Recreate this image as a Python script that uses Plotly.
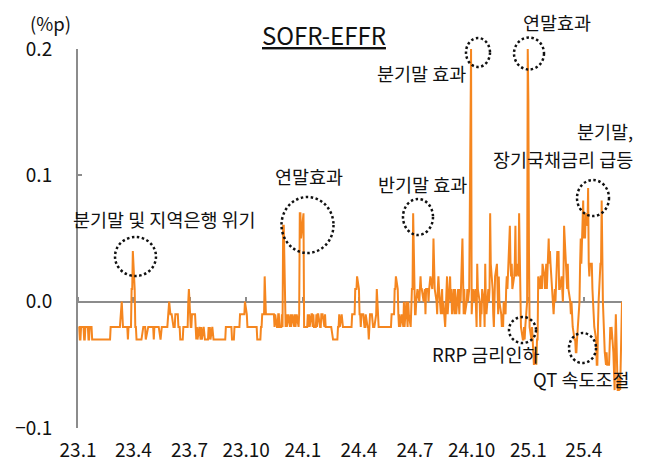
import pandas as pd
import plotly.graph_objects as go

# SOFR - EFFR spread, basis points, one list per month (business days)
SPREAD_2023 = [
    [-2,-2,-3,-3,-2,-2,-2,-3,-3,-2,-2,-2,-3,-3,-2,-2,-3,-3,-3,-3,-3,-3],
    [-3,-3,-3,-3,-3,-3,-3,-3,-3,-3,-3,-3,-3,-3,-3,-3,-2,-2,-2,-2],
    [-2,-2,-2,-2,-2,-2,-2,-2,0,-2,-2,-2,-2,-2,-2,-2,-3,-2,-2,-2,1,1,4],
    [1,-2,-2,-3,-3,-3,-3,-3,-3,-3,-2,-2,-2,-2,-3,-2,-2,-2,-2,-2],
    [-2,-2,-2,-3,-2,-2,-2,-2,-2,-2,-3,-2,-2,-2,-2,-2,-2,-2,-2,-2,0,-1,-1],
    [-1,-1,-2,-2,-2,-1,-1,-1,-2,-2,-2,-3,-3,-3,-2,-2,-2,-2,-2,-2,0,1],
    [-2,-2,-1,-1,-1,-1,-2,-3,-2,-3,-2,-3,-3,-2,-3,-2,-3,-3,-3,-3,-3],
    [-2,-3,-2,-3,-2,-3,-3,-3,-3,-3,-3,-3,-3,-3,-3,-3,-3,-3,-3,-3,-2,-2,-2],
    [-2,-2,-2,-2,-2,-3,-3,-2,-2,-2,-2,-2,-2,-2,-1,-1,-1,-1,-1,-1,0],
    [-1,-2,-2,-2,-2,-2,-2,-2,-2,-2,-2,-2,-2,-3,-3,-3,-3,-2,-2,-1,-1,2],
    [-1,-1,-1,-1,-1,-1,-1,-1,-1,-1,-1,-2,-1,-2,-2,-1,-1,-2,-2,-1,-2,6],
    [6,-2,-1,-2,-1,-1,-2,-1,-2,-1,-1,-2,-1,-2,-1,-1,-2,-1,7,7,5],
]
SPREAD_2024 = [
    [7,7,-2,-2,-2,-2,-1,-2,-1,-2,-1,-1,-2,-1,-2,-2,-1,-2,-1,-1,-2,-2,-1],
    [-1,-1,-2,-1,-2,-2,-2,-2,-2,-2,-2,-2,-3,-3,-3,-3,-3,-3,-2,-2,-1],
    [-2,-1,-2,-2,-2,-2,-2,-2,-2,-2,-2,-2,-2,-2,-1,-1,-1,1,1,1,2],
    [1,-1,-1,-2,-1,-1,-2,-2,-2,-1,-2,-2,-3,-1,-1,-1,-2,-2,-2,-2,-1,1],
    [0,-2,-2,-2,-2,-2,-2,-2,-2,-2,-2,-2,-2,-2,-2,-2,-2,-1,-1,-1,1,1,2],
    [1,-1,-2,-1,-2,-1,-2,-2,0,-2,0,-1,-2,0,-1,-2,0,1,1,7],
    [-1,-1,0,1,1,0,1,2,1,1,0,1,1,-1,1,1,0,1,2,2,1,2,5],
    [2,1,0,-1,1,2,1,-1,0,1,-1,0,-2,-1,1,2,-1,1,2,0,1,-1],
    [1,-1,1,0,-1,1,0,-1,1,0,5,0,-1,1,-1,0,1,0,1,1,20],
    [-1,0,1,0,1,-2,-2,3,1,0,-2,0,-1,1,0,-2,3,0,-1,1,0,1,7],
    [3,1,-1,-2,0,2,3,1,-1,2,0,-1,-2,-1,-2,0,-1,1,2,1,2],
    [6,3,2,3,1,2,3,6,2,3,2,7,3,1,-2,-3,-3,-2,-3,-2,0,20],
]
SPREAD_2025 = [
    [16,4,-2,-3,-2,-3,-5,-5,-4,-5,-3,-3,2,1,2,2,1,3,2,1,2,3,1],
    [5,3,4,3,2,-1,-1,0,1,0,4,3,4,1,1,2,1,0,2,6],
    [3,2,1,3,1,0,-1,0,-1,-2,-3,-3,-4,-4,-3,-1,0,3,5,3,8],
    [5,6,5,7,6,9,3,2,3,3,1,-1,-1,-2,-3,-5,-5,-2,0,3,3,8],
    [3,0,-4,-5,-5,-4,-5,-5,-2,-2,-3,-2,-4,-5,-7,-3,-1,-7,-7,-7,-6,-7],
    [0],
]
YEARS = [2023, 2024, 2025]

TICK_DATES = ["2023-01-01", "2023-04-01", "2023-07-01", "2023-10-01",
              "2024-01-01", "2024-04-01", "2024-07-01", "2024-10-01",
              "2025-01-01", "2025-04-01"]
TICK_TEXT = ["23.1", "23.4", "23.7", "23.10", "24.1", "24.4", "24.7",
             "24.10", "25.1", "25.4"]
Y_TICKS = [-0.1, 0.0, 0.1, 0.2]

dates, values = [], []
for year, months in zip(YEARS, [SPREAD_2023, SPREAD_2024, SPREAD_2025]):
    for m, vals in enumerate(months, start=1):
        d = pd.bdate_range(pd.Timestamp(year, m, 1), periods=len(vals))
        dates.extend(d)
        values.extend(v / 100 for v in vals)

X_RANGE = ["2023-01-01", "2025-06-02"]
Y_RANGE = [-0.1, 0.2]

# page geometry (the page body adds an 8px offset around the figure)
OFF = 8
PAGE_W, PAGE_H = 649, 464
W, H = PAGE_W - OFF, PAGE_H - OFF
L, R, T, B = 78, 622, 49, 428          # plot area, page pixels
FONT = "Noto Sans CJK KR, Noto Sans, sans-serif"
GRAY = "#8C8C8C"
ORANGE = "#F5861F"


def px(x):
    return (x - L) / (R - L)


def py(y):
    return (B - y) / (B - T)


fig = go.Figure()
fig.add_trace(go.Scatter(x=dates, y=values, mode="lines",
                         line=dict(color=ORANGE, width=2),
                         hoverinfo="skip", showlegend=False))
fig.add_trace(go.Scatter(x=dates, y=values, mode="none", xaxis="x2",
                         hoverinfo="skip", showlegend=False))

labels = [
    ("분기말 및 지역은행 위기", 164, 219, "center"),
    ("연말효과", 309, 176, "center"),
    ("분기말 효과", 421, 73, "center"),
    ("연말효과", 557, 22, "center"),
    ("반기말 효과", 422, 184, "center"),
    ("분기말,", 635, 131, "right"),
    ("장기국채금리 급등", 635, 159, "right"),
    ("RRP 금리인하", 485, 354, "center"),
    ("QT 속도조절", 581, 379, "center"),
    ("(%p)", 50, 23, "center"),
]
anns = []
for text, x, y, anchor in labels:
    anns.append(dict(text=text, x=px(x), y=py(y), xref="paper", yref="paper",
                     xanchor=anchor, yanchor="middle", showarrow=False,
                     font=dict(family=FONT, size=18.5, color="#111111")))
anns.append(dict(text="SOFR-EFFR", x=px(324), y=py(35), xref="paper",
                 yref="paper", xanchor="center", yanchor="middle",
                 showarrow=False,
                 font=dict(family=FONT, size=24, color="#111111",
                           lineposition="under")))

circles = [
    (135.5, 256.5, 20.5, 19.5),
    (307.5, 225, 26, 28),
    (418, 217, 15, 18),
    (478, 52.5, 12, 14.5),
    (529, 53.5, 15, 16),
    (593, 198, 16, 18),
    (522.5, 330, 13.5, 13),
    (582.5, 348, 13.5, 15),
]
shapes = []
for cx, cy, rx, ry in circles:
    shapes.append(dict(type="circle", xref="paper", yref="paper",
                       x0=px(cx - rx), x1=px(cx + rx),
                       y0=py(cy + ry), y1=py(cy - ry),
                       line=dict(color="#111111", width=2.5,
                                 dash="2.5px,2.5px")))

fig.update_layout(
    width=W, height=H,
    margin=dict(l=L - OFF, r=PAGE_W - R, t=T - OFF, b=PAGE_H - B),
    paper_bgcolor="white", plot_bgcolor="white",
    font=dict(family=FONT, size=19, color="#111111"),
    annotations=anns, shapes=shapes,
    xaxis=dict(type="date", range=X_RANGE, tickvals=TICK_DATES,
               ticktext=TICK_TEXT, showline=False, ticks="",
               showgrid=False, zeroline=False, ticklabelstandoff=9,
               tickfont=dict(size=19), automargin=False),
    xaxis2=dict(type="date", overlaying="x", anchor="free",
                position=(0 - Y_RANGE[0]) / (Y_RANGE[1] - Y_RANGE[0]),
                side="top", range=X_RANGE, tickvals=TICK_DATES,
                showticklabels=False, showline=True, linecolor=GRAY,
                linewidth=1.5, ticks="outside", ticklen=4, tickcolor=GRAY,
                tickwidth=1.5, showgrid=False, zeroline=False,
                layer="below traces", automargin=False),
    yaxis=dict(range=Y_RANGE, tickvals=Y_TICKS, tickformat=".1f",
               showline=True, linecolor=GRAY, linewidth=2, ticks="inside",
               ticklen=4, tickcolor=GRAY, tickwidth=1.5, showgrid=False,
               zeroline=False, ticklabelstandoff=20,
               tickfont=dict(size=19), automargin=False),
)

fig.write_html("out.html")
